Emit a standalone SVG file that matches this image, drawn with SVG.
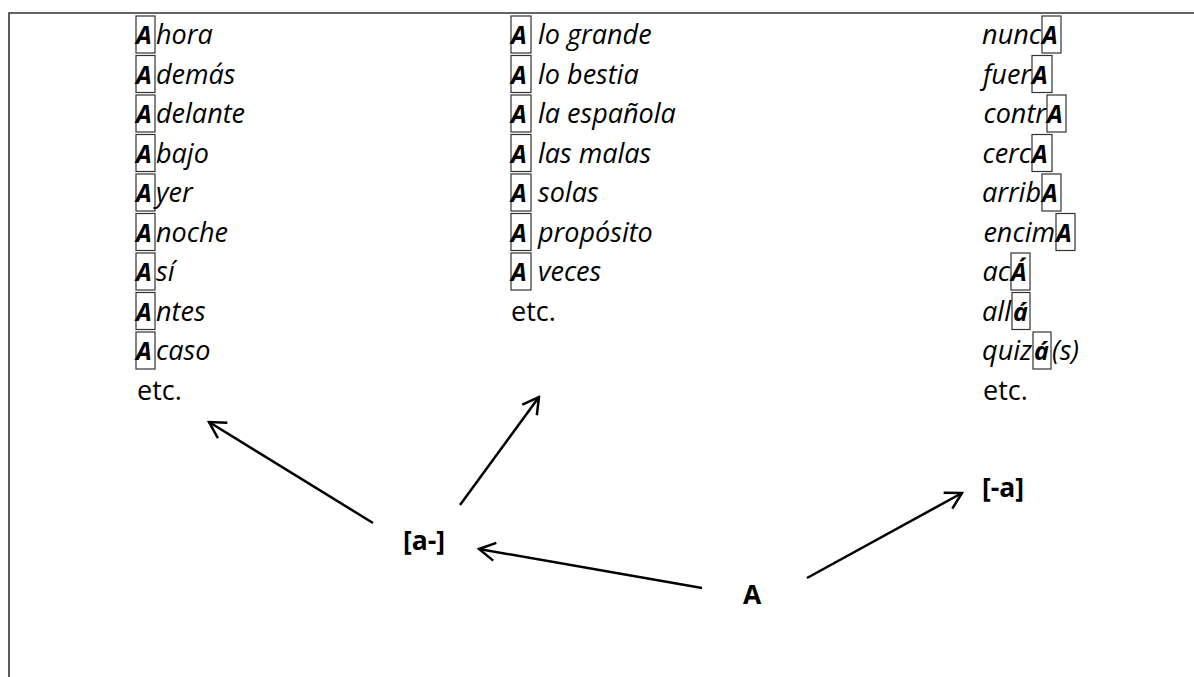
<svg xmlns="http://www.w3.org/2000/svg" width="1194" height="677" viewBox="0 0 1194 677">
<style>
text{font-family:"Open Sans","Noto Sans",sans-serif;font-size:27px;fill:#000}
.i{font-style:italic}
.b{font-weight:bold;font-style:italic;font-size:25px}
.lb{font-weight:bold;font-style:normal;font-size:26.5px}
.box{fill:none;stroke:#333;stroke-width:1.2}
.con{fill:none;stroke:#000;stroke-width:2.5;marker-end:url(#arr)}
.frame{fill:none;stroke:#333;stroke-width:1.6}
</style>
<defs>
<marker id="arr" markerUnits="userSpaceOnUse" viewBox="-20 -12 22 24" markerWidth="22" markerHeight="24" refX="0" refY="0" orient="auto">
<path d="M-16,-9 L0,0 L-16,9" fill="none" stroke="#000" stroke-width="2.5" stroke-linejoin="miter"/>
</marker>
</defs>
<rect width="1194" height="677" fill="#fff"/>
<polyline class="frame" points="9,677 9,13 1194,13"/>

<g id="col-prefix">
<rect class="box" x="136" y="16" width="19" height="37"/>
<rect class="box" x="136" y="55.5" width="19" height="37"/>
<rect class="box" x="136" y="95" width="19" height="37"/>
<rect class="box" x="136" y="134.5" width="19" height="37"/>
<rect class="box" x="136" y="174" width="19" height="37"/>
<rect class="box" x="136" y="213.5" width="19" height="37"/>
<rect class="box" x="136" y="253" width="19" height="37"/>
<rect class="box" x="136" y="292.5" width="19" height="37"/>
<rect class="box" x="136" y="332" width="19" height="37"/>
<text y="44"><tspan class="b" x="136">A</tspan><tspan class="i" x="156">hora</tspan></text>
<text y="83.5"><tspan class="b" x="136">A</tspan><tspan class="i" x="156">demás</tspan></text>
<text y="123"><tspan class="b" x="136">A</tspan><tspan class="i" x="156">delante</tspan></text>
<text y="162.5"><tspan class="b" x="136">A</tspan><tspan class="i" x="156">bajo</tspan></text>
<text y="202"><tspan class="b" x="136">A</tspan><tspan class="i" x="156">yer</tspan></text>
<text y="241.5"><tspan class="b" x="136">A</tspan><tspan class="i" x="156">noche</tspan></text>
<text y="281"><tspan class="b" x="136">A</tspan><tspan class="i" x="156">sí</tspan></text>
<text y="320.5"><tspan class="b" x="136">A</tspan><tspan class="i" x="156">ntes</tspan></text>
<text y="360"><tspan class="b" x="136">A</tspan><tspan class="i" x="156">caso</tspan></text>
<text x="137" y="399.5">etc.</text>
</g>

<g id="col-locution">
<rect class="box" x="511" y="16" width="20" height="37"/>
<rect class="box" x="511" y="55.5" width="20" height="37"/>
<rect class="box" x="511" y="95" width="20" height="37"/>
<rect class="box" x="511" y="134.5" width="20" height="37"/>
<rect class="box" x="511" y="174" width="20" height="37"/>
<rect class="box" x="511" y="213.5" width="20" height="37"/>
<rect class="box" x="511" y="253" width="20" height="37"/>
<text y="44"><tspan class="b" x="511">A</tspan><tspan class="i" x="538">lo grande</tspan></text>
<text y="83.5"><tspan class="b" x="511">A</tspan><tspan class="i" x="538">lo bestia</tspan></text>
<text y="123"><tspan class="b" x="511">A</tspan><tspan class="i" x="538">la española</tspan></text>
<text y="162.5"><tspan class="b" x="511">A</tspan><tspan class="i" x="538">las malas</tspan></text>
<text y="202"><tspan class="b" x="511">A</tspan><tspan class="i" x="538">solas</tspan></text>
<text y="241.5"><tspan class="b" x="511">A</tspan><tspan class="i" x="538">propósito</tspan></text>
<text y="281"><tspan class="b" x="511">A</tspan><tspan class="i" x="538">veces</tspan></text>
<text x="511" y="320.5">etc.</text>
</g>

<g id="col-suffix">
<rect class="box" x="1042" y="16" width="19" height="37"/>
<rect class="box" x="1032" y="55.5" width="20" height="37"/>
<rect class="box" x="1047" y="95" width="19" height="37"/>
<rect class="box" x="1032" y="134.5" width="20" height="37"/>
<rect class="box" x="1042" y="174" width="19" height="37"/>
<rect class="box" x="1056" y="213.5" width="19" height="37"/>
<rect class="box" x="1011" y="253" width="19" height="37"/>
<rect class="box" x="1012" y="292.5" width="18" height="37"/>
<rect class="box" x="1033" y="332" width="18" height="37"/>
<text class="i" x="1041" y="44" text-anchor="end">nunc</text><text class="b" x="1042" y="44">A</text>
<text class="i" x="1031" y="83.5" text-anchor="end">fuer</text><text class="b" x="1032" y="83.5">A</text>
<text class="i" x="1046" y="123" text-anchor="end">contr</text><text class="b" x="1047" y="123">A</text>
<text class="i" x="1031" y="162.5" text-anchor="end">cerc</text><text class="b" x="1032" y="162.5">A</text>
<text class="i" x="1041" y="202" text-anchor="end">arrib</text><text class="b" x="1042" y="202">A</text>
<text class="i" x="1055" y="241.5" text-anchor="end">encim</text><text class="b" x="1056" y="241.5">A</text>
<text class="i" x="1010" y="281" text-anchor="end">ac</text><text class="b" x="1011" y="281">Á</text>
<text class="i" x="1011" y="320.5" text-anchor="end">all</text><text class="b" x="1013" y="320.5">á</text>
<text class="i" x="1032" y="360" text-anchor="end">quiz</text><text class="b" x="1034" y="360">á</text><text class="i" x="1052" y="360">(s)</text>
<text x="983" y="399.5">etc.</text>
</g>

<g id="node-prefix"><text class="lb" x="403" y="550">[a-]</text></g>
<g id="node-A"><text class="lb" x="743" y="604">A</text></g>
<g id="node-suffix"><text class="lb" x="982" y="497">[-a]</text></g>

<g id="connectors">
<line class="con" x1="373" y1="523" x2="209" y2="422"/>
<line class="con" x1="460" y1="505" x2="539" y2="397"/>
<line class="con" x1="702" y1="588" x2="479" y2="549"/>
<line class="con" x1="807" y1="578" x2="962" y2="493"/>
</g>
</svg>
